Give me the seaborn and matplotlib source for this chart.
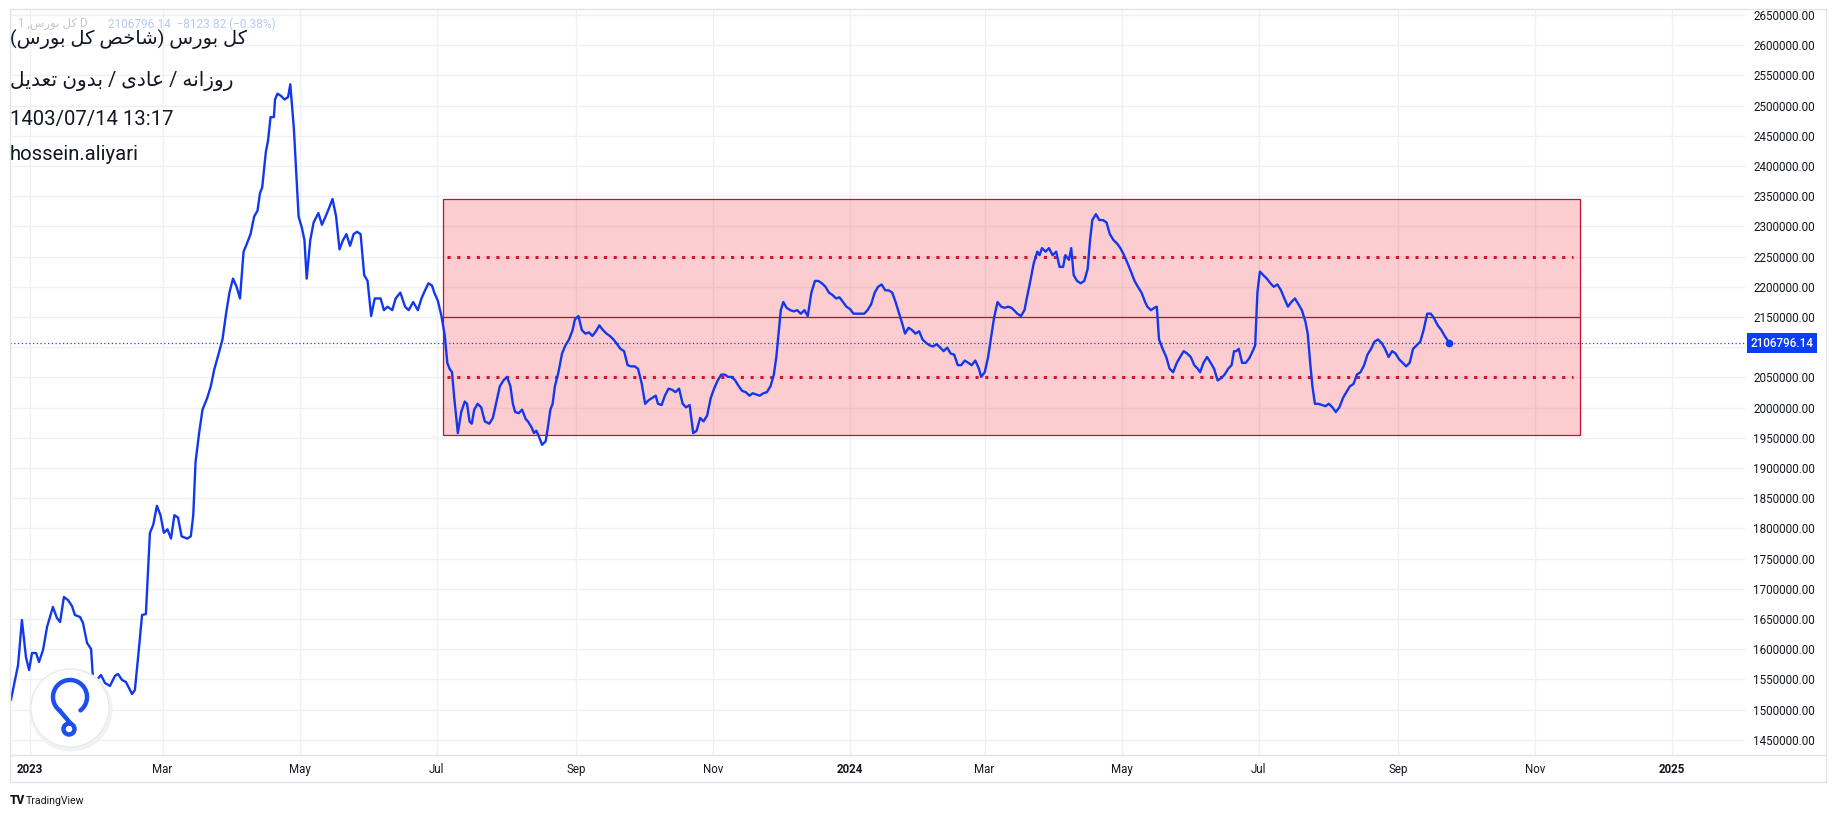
import numpy as np
import pandas as pd
import matplotlib
matplotlib.use("Agg")
import matplotlib.pyplot as plt
import seaborn as sns
from matplotlib.patches import Circle, Rectangle

# ---------------- data ----------------
START_DATE = "2023-01-01"
# days after START_DATE
day_offset = [
    -8.5, -5.3, -3.6, -1.8, -0.4, 0.9, 2.7, 4.0, 5.8, 7.6, 10.2, 12.0, 13.4, 15.1, 16.9, 18.7,
    20.0, 22.3, 23.6, 25.4, 27.2, 28.0, 29.8, 31.6, 33.4, 35.6, 37.8, 39.2, 41.0, 42.7, 44.1,
    45.4, 46.7, 48.1, 49.9, 51.6, 53.4, 54.9, 56.5, 58.1, 59.6, 61.2, 62.8, 64.3, 65.9, 67.5,
    70.0, 71.6, 72.7, 73.7, 75.3, 76.8, 78.9, 80.5, 82.0, 83.6, 85.7, 87.3, 88.8, 90.4, 92.0,
    93.5, 95.1, 96.6, 98.2, 99.8, 101.3, 102.4, 103.4, 105.0, 106.0, 107.1, 108.6, 109.1,
    110.2, 111.8, 113.3, 114.9, 115.9, 117.5, 118.5, 119.6, 121.1, 122.2, 123.2, 124.8, 126.3,
    128.4, 130.0, 131.6, 133.1, 134.7, 136.3, 137.8, 139.4, 140.9, 142.5, 144.1, 145.6, 147.2,
    148.8, 150.3, 151.9, 153.5, 156.1, 157.6, 159.2, 161.3, 162.8, 164.9, 167.0, 168.6, 170.6,
    172.7, 174.3, 175.9, 177.4, 179.0, 180.0, 181.6, 183.2, 184.7, 185.8, 186.8, 187.9, 188.9,
    190.5, 192.0, 193.6, 194.6, 195.7, 196.7, 197.8, 199.3, 200.9, 202.5, 204.5, 206.1, 207.7,
    209.2, 210.8, 212.4, 213.9, 215.0, 216.0, 217.6, 219.1, 220.7, 221.7, 223.3, 224.4, 225.4,
    226.4, 228.0, 229.6, 230.6, 231.7, 232.7, 233.7, 235.3, 236.9, 238.4, 240.0, 241.6, 242.6,
    244.2, 245.7, 247.3, 248.9, 250.4, 252.0, 253.5, 255.1, 256.7, 258.2, 259.8, 261.4, 262.9,
    264.5, 266.1, 267.6, 269.2, 270.7, 272.3, 273.9, 275.4, 277.0, 278.6, 279.6, 281.2, 282.7,
    284.3, 285.9, 287.4, 289.0, 290.6, 292.1, 293.7, 295.3, 296.8, 298.4, 299.9, 301.5, 303.1,
    304.6, 306.2, 307.8, 309.3, 310.9, 312.4, 314.0, 315.6, 317.1, 318.7, 320.3, 321.8, 323.4,
    324.9, 326.5, 328.1, 329.7, 331.2, 332.3, 333.3, 334.3, 335.4, 336.9, 338.5, 340.1, 341.6,
    343.2, 344.8, 346.3, 347.9, 349.5, 351.0, 352.6, 354.2, 355.7, 357.3, 358.9, 360.4, 362.0,
    363.5, 365.1, 366.7, 368.2, 369.8, 371.4, 372.9, 374.5, 376.1, 377.6, 379.2, 380.8, 382.3,
    383.9, 385.4, 387.0, 388.6, 389.6, 391.2, 392.7, 394.3, 395.9, 397.4, 399.0, 400.6, 402.1,
    403.7, 405.3, 406.8, 408.4, 409.9, 411.5, 413.1, 414.6, 416.2, 417.8, 419.3, 420.9, 422.5,
    423.5, 425.1, 426.6, 428.2, 429.2, 430.8, 432.4, 433.9, 435.5, 437.0, 438.1, 439.6, 441.2,
    442.8, 443.8, 445.4, 446.9, 448.5, 449.5, 450.6, 452.2, 453.7, 455.3, 456.9, 458.4, 460.0,
    461.0, 462.6, 463.6, 464.7, 466.2, 467.8, 469.4, 470.9, 472.0, 473.0, 474.6, 476.1, 477.7,
    479.3, 480.8, 482.4, 484.0, 485.5, 487.1, 488.7, 490.2, 491.8, 493.3, 494.9, 496.5, 497.5,
    499.1, 500.6, 501.7, 502.7, 504.3, 505.9, 507.4, 509.0, 510.6, 512.1, 513.7, 515.2, 516.8,
    518.4, 519.9, 521.0, 522.5, 524.1, 525.7, 527.2, 528.8, 530.4, 531.9, 533.5, 535.0, 536.1,
    537.1, 538.2, 539.7, 541.3, 542.9, 544.4, 545.5, 546.5, 547.6, 549.1, 550.7, 552.3, 553.8,
    555.4, 557.0, 558.5, 560.1, 561.6, 563.2, 564.8, 566.3, 567.9, 568.9, 570.0, 571.0, 572.1,
    573.6, 575.2, 576.8, 578.3, 579.9, 581.4, 583.0, 584.6, 586.1, 587.7, 589.3, 590.8, 592.4,
    594.0, 595.5, 597.1, 598.6, 600.2, 601.8, 603.3, 604.9, 606.5, 608.0, 609.6, 611.2, 612.7,
    614.3, 615.8, 617.4, 619.0, 620.5, 622.1, 623.7, 625.2, 626.8, 628.4, 629.9, 632.0,
]
# index level in thousands
index_k = [
    1515.9, 1573.8, 1648.3, 1587.0, 1565.5, 1593.7, 1593.7, 1578.8, 1598.6, 1636.8, 1669.9, 1651.6,
    1645.0, 1686.4, 1681.4, 1671.5, 1656.6, 1653.3, 1643.4, 1610.3, 1600.3, 1554.0, 1549.0, 1557.3,
    1544.0, 1539.1, 1555.6, 1559.0, 1549.0, 1545.7, 1535.7, 1525.8, 1532.4, 1585.4, 1656.6, 1658.2,
    1792.5, 1806.3, 1837.4, 1821.9, 1792.7, 1798.5, 1783.1, 1821.9, 1818.0, 1786.9, 1783.1, 1787.0,
    1822.2, 1909.4, 1957.8, 1996.6, 2015.9, 2035.3, 2062.4, 2083.8, 2112.8, 2155.5, 2190.4, 2213.6,
    2200.0, 2180.7, 2258.2, 2271.7, 2287.2, 2316.3, 2326.0, 2355.1, 2364.8, 2422.9, 2442.3, 2481.0,
    2481.0, 2510.1, 2519.8, 2515.9, 2510.1, 2514.0, 2535.3, 2461.6, 2393.8, 2316.3, 2296.9, 2277.5,
    2213.6, 2277.5, 2306.6, 2322.1, 2302.7, 2316.3, 2329.9, 2345.4, 2316.3, 2262.0, 2277.5, 2287.2,
    2267.9, 2287.2, 2291.1, 2287.2, 2219.4, 2209.7, 2151.6, 2180.7, 2180.7, 2161.3, 2167.1, 2161.3,
    2180.7, 2190.4, 2167.1, 2161.3, 2174.8, 2161.3, 2180.7, 2194.2, 2205.8, 2202.0, 2190.4, 2176.8,
    2151.6, 2118.6, 2074.1, 2064.4, 2058.6, 2015.9, 1957.8, 1992.7, 2010.1, 2006.3, 1977.2, 1973.3,
    1996.6, 2006.3, 2000.4, 1977.2, 1973.3, 1983.0, 2010.1, 2035.3, 2045.0, 2050.8, 2035.3, 2006.3,
    1992.7, 1990.8, 1996.6, 1981.1, 1977.2, 1967.5, 1957.8, 1961.7, 1954.0, 1938.4, 1944.3, 1967.5,
    1996.6, 2006.3, 2035.3, 2058.6, 2089.6, 2103.1, 2112.8, 2128.4, 2145.8, 2151.6, 2128.4, 2122.5,
    2124.5, 2118.6, 2126.4, 2136.1, 2128.4, 2122.5, 2118.6, 2112.8, 2105.1, 2097.3, 2093.5, 2070.2,
    2068.3, 2068.3, 2064.4, 2041.1, 2006.3, 2012.1, 2015.9, 2019.8, 2006.3, 2004.3, 2019.8, 2031.4,
    2029.5, 2025.6, 2031.4, 2006.3, 2000.4, 2004.3, 1957.8, 1961.7, 1983.0, 1977.2, 1986.9, 2015.9,
    2031.4, 2045.0, 2054.7, 2054.7, 2050.8, 2050.8, 2045.0, 2035.3, 2027.6, 2025.6, 2019.8, 2023.7,
    2021.7, 2019.8, 2023.7, 2025.6, 2035.3, 2054.7, 2083.8, 2122.5, 2161.3, 2174.8, 2165.2, 2161.3,
    2159.3, 2161.3, 2155.5, 2161.3, 2151.6, 2190.4, 2209.7, 2209.7, 2205.8, 2200.0, 2190.4, 2186.5,
    2180.7, 2182.6, 2174.8, 2167.1, 2163.2, 2155.5, 2155.5, 2155.5, 2155.5, 2161.3, 2171.0, 2190.4,
    2200.0, 2203.9, 2194.2, 2194.2, 2190.4, 2174.8, 2155.5, 2136.1, 2122.5, 2132.2, 2128.4, 2122.5,
    2126.4, 2112.8, 2107.0, 2103.1, 2101.2, 2105.1, 2099.3, 2093.5, 2099.3, 2089.6, 2087.6, 2070.2,
    2070.2, 2077.9, 2074.1, 2070.2, 2077.9, 2064.4, 2050.8, 2058.6, 2083.8, 2122.5, 2147.7, 2174.8,
    2167.1, 2165.2, 2167.1, 2165.2, 2161.3, 2155.5, 2151.6, 2161.3, 2180.7, 2209.7, 2238.8, 2258.2,
    2252.4, 2264.0, 2258.2, 2264.0, 2252.4, 2258.2, 2233.0, 2233.0, 2252.4, 2244.6, 2264.0, 2219.4,
    2209.7, 2205.8, 2209.7, 2229.1, 2277.5, 2310.5, 2320.2, 2310.5, 2310.5, 2306.6, 2287.2, 2277.5,
    2271.7, 2264.0, 2252.4, 2238.8, 2225.2, 2209.7, 2200.0, 2190.4, 2174.8, 2167.1, 2161.3, 2165.2,
    2167.1, 2112.8, 2097.3, 2083.8, 2064.4, 2058.6, 2074.1, 2083.8, 2093.5, 2089.6, 2083.8, 2070.2,
    2064.4, 2058.6, 2074.1, 2083.8, 2074.1, 2064.4, 2045.0, 2048.9, 2054.7, 2064.4, 2070.2, 2093.5,
    2093.5, 2097.3, 2074.1, 2074.1, 2081.8, 2093.5, 2103.1, 2190.4, 2225.2, 2219.4, 2213.6, 2205.8,
    2200.0, 2203.9, 2194.2, 2180.7, 2167.1, 2174.8, 2180.7, 2171.0, 2161.3, 2141.9, 2122.5, 2074.1,
    2035.3, 2006.3, 2006.3, 2004.3, 2002.4, 2006.3, 2000.4, 1992.7, 2000.4, 2015.9, 2025.6, 2035.3,
    2039.2, 2054.7, 2058.6, 2070.2, 2087.6, 2097.3, 2109.0, 2112.8, 2107.0, 2097.3, 2083.8, 2093.5,
    2089.6, 2079.9, 2074.1, 2068.3, 2074.1, 2097.3, 2103.1, 2109.0, 2128.4, 2155.5, 2155.5, 2147.7,
    2136.1, 2128.4, 2118.6, 2106.79614,
]
last_price = 2106796.14
last_change = -8123.82
last_change_pct = -0.38

box_start = "2023-07-04"
box_end = "2024-11-21"
box_top = 2345000
box_bottom = 1955000
box_mid = 2150000
dotted_levels = [2250000, 2050000]

y_ticks = list(range(1450000, 2650001, 50000))
x_tick_dates = ["2023-01-01", "2023-03-01", "2023-05-01", "2023-07-01", "2023-09-01",
                "2023-11-01", "2024-01-01", "2024-03-01", "2024-05-01", "2024-07-01",
                "2024-09-01", "2024-11-01", "2025-01-01"]
x_tick_labels = ["2023", "Mar", "May", "Jul", "Sep", "Nov", "2024", "Mar", "May", "Jul",
                 "Sep", "Nov", "2025"]

title_fa = "کل بورس (شاخص کل بورس)"
subtitle_fa = "روزانه / عادی / بدون تعدیل"
stamp = "1403/07/14 13:17"
author = "hossein.aliyari"
symbol_fa = "کل بورس"

# ---------------- Persian shaping (matplotlib has no bidi) ----------------
_FORMS = {
    "ا": ("\uFE8D", "\uFE8E", None, None),
    "ب": ("\uFE8F", "\uFE90", "\uFE91", "\uFE92"),
    "ت": ("\uFE95", "\uFE96", "\uFE97", "\uFE98"),
    "خ": ("\uFEA5", "\uFEA6", "\uFEA7", "\uFEA8"),
    "د": ("\uFEA9", "\uFEAA", None, None),
    "ر": ("\uFEAD", "\uFEAE", None, None),
    "ز": ("\uFEAF", "\uFEB0", None, None),
    "س": ("\uFEB1", "\uFEB2", "\uFEB3", "\uFEB4"),
    "ش": ("\uFEB5", "\uFEB6", "\uFEB7", "\uFEB8"),
    "ص": ("\uFEB9", "\uFEBA", "\uFEBB", "\uFEBC"),
    "ع": ("\uFEC9", "\uFECA", "\uFECB", "\uFECC"),
    "ل": ("\uFEDD", "\uFEDE", "\uFEDF", "\uFEE0"),
    "ن": ("\uFEE5", "\uFEE6", "\uFEE7", "\uFEE8"),
    "ه": ("\uFEE9", "\uFEEA", "\uFEEB", "\uFEEC"),
    "و": ("\uFEED", "\uFEEE", None, None),
    "ک": ("\uFB8E", "\uFB8F", "\uFB90", "\uFB91"),
    "ی": ("\uFBFC", "\uFBFD", "\uFBFE", "\uFBFF"),
}


def shape(s):
    out = []
    for i, c in enumerate(s):
        f = _FORMS.get(c)
        if f is None:
            out.append(c)
            continue
        prev = s[i - 1] if i > 0 else ""
        nxt = s[i + 1] if i + 1 < len(s) else ""
        pj = prev in _FORMS and _FORMS[prev][2] is not None
        nj = (nxt in _FORMS) and f[2] is not None
        if f[2] is None:
            out.append(f[1] if pj else f[0])
        elif pj and nj:
            out.append(f[3])
        elif pj:
            out.append(f[1])
        elif nj:
            out.append(f[2])
        else:
            out.append(f[0])
    return "".join(out)


def rtl(s):
    mirror = {"(": ")", ")": "("}
    return "".join(mirror.get(c, c) for c in reversed(shape(s)))


# ---------------- figure ----------------
sns.set_theme(style="white")
plt.rcParams["font.family"] = ["Roboto", "DejaVu Sans"]

W, H = 1836, 818
fig = plt.figure(figsize=(W / 100, H / 100), dpi=100)
fig.patch.set_facecolor("white")

PL, PR, PT, PB = 10, 1745, 9, 755
ax = fig.add_axes([PL / W, 1 - PB / H, (PR - PL) / W, (PB - PT) / H])
ax.set_facecolor("white")

start = pd.Timestamp(START_DATE)
df = pd.DataFrame({
    "date": start + pd.to_timedelta(np.array(day_offset) * 86400, unit="s"),
    "value": np.array(index_k) * 1000.0,
})

LINE = "#1238ee"
sns.lineplot(data=df, x="date", y="value", ax=ax, color=LINE, linewidth=1.7,
             estimator=None, sort=False, zorder=4)
ax.plot(df["date"].iloc[-1:], df["value"].iloc[-1:], "o", color=LINE, markersize=4.5, zorder=5)

# range box
bx0, bx1 = pd.Timestamp(box_start), pd.Timestamp(box_end)
ax.add_patch(Rectangle((bx0, box_bottom), bx1 - bx0, box_top - box_bottom,
                       facecolor=(0.949, 0.212, 0.271, 0.25), edgecolor="#c8102e",
                       linewidth=0.9, zorder=2))
ax.plot([bx0, bx1], [box_mid, box_mid], color="#b0132d", linewidth=0.9, zorder=2)
for lv in dotted_levels:
    ax.plot([bx0 + pd.Timedelta(days=1.5), bx1 - pd.Timedelta(days=3)], [lv, lv],
            color="#dc0f2a", linewidth=2.2, linestyle=(0, (1, 2.2)),
            dash_capstyle="butt", zorder=3)

# last price line
ax.axhline(last_price, color="#3543a8", linewidth=0.9, linestyle=(0, (1, 2)), zorder=3)

# axes limits / grid
ax.set_xlim(start - pd.Timedelta(days=8.9), start + pd.Timedelta(days=763.6))
ax.set_ylim(1424834, 2659934)
for s in ax.spines.values():
    s.set_visible(False)
ax.grid(True, color="#eef0f4", linewidth=1.0, zorder=0)
ax.set_axisbelow(True)

shown_y = [t for t in y_ticks if abs(t - last_price) > 25000]
ax.set_yticks(y_ticks)
ax.set_yticklabels([f"{t:.2f}" if t in shown_y else "" for t in y_ticks])
ax.yaxis.tick_right()
ax.tick_params(axis="y", length=0, pad=6, labelsize=8.4, labelcolor="#131722")

ax.set_xticks(pd.to_datetime(x_tick_dates))
ax.set_xticklabels(x_tick_labels)
ax.tick_params(axis="x", length=0, pad=6, labelsize=8.3, labelcolor="#131722")
for lbl in ax.get_xticklabels():
    if lbl.get_text().isdigit():
        lbl.set_fontweight("bold")
ax.set_xlabel("")
ax.set_ylabel("")

ax.annotate(f"{last_price:.2f}", xy=(1, last_price), xycoords=ax.get_yaxis_transform(),
            xytext=(4.3, 0), textcoords="offset points", ha="left", va="center",
            color="white", fontsize=8.4, fontweight="medium",
            bbox=dict(boxstyle="square,pad=0.3", fc="#0b3df5", ec="none"),
            annotation_clip=False, zorder=10)

# ---------------- overlay (frame, texts, logo) in pixel coordinates ----------------
ov = fig.add_axes([0, 0, 1, 1], zorder=5)
ov.set_xlim(0, W)
ov.set_ylim(H, 0)
ov.axis("off")
ov.patch.set_alpha(0)

FR = "#e0e3eb"
ov.plot([10, 1826, 1826, 10, 10], [9, 9, 782, 782, 9], color=FR, linewidth=1.0)
ov.plot([10, 1826], [755, 755], color=FR, linewidth=1.0)

# faint legend row
ov.text(18, 24, "1 ," + rtl(symbol_fa) + " D", fontsize=8.5, color="#c3c6cf",
        va="center", ha="left")
ov.text(108, 24, f"{last_price:.2f}  \u2212{abs(last_change):.2f} (\u2212{abs(last_change_pct):.2f}%)",
        fontsize=8.5, color="#b9c8f2", va="center", ha="left")

# title block
TXT = "#131722"
ov.text(10, 44, rtl(title_fa), fontsize=14, color=TXT, ha="left", va="baseline")
ov.text(10, 86, rtl(subtitle_fa), fontsize=14.5, color=TXT, ha="left", va="baseline")
ov.text(10, 125, stamp, fontsize=14.6, color=TXT, ha="left", va="baseline")
ov.text(10, 160, author, fontsize=14.6, color=TXT, ha="left", va="baseline")

# author logo
ov.add_patch(Circle((71, 710), 41.5, facecolor="#f1f2f4", edgecolor="none", zorder=6))
ov.add_patch(Circle((70, 708), 39, facecolor="white", edgecolor="#e6e8ec", linewidth=0.8, zorder=7))
t = np.radians(np.linspace(-52, 232, 120))
cx, cy, r = 70, 697, 17
ov.plot(cx + r * np.cos(t), cy - r * np.sin(t), color="#1d4ef0", linewidth=3.2,
        solid_capstyle="round", zorder=8)
ax_end = (cx + r * np.cos(np.radians(232)), cy - r * np.sin(np.radians(232)))
ov.plot([ax_end[0], 71], [ax_end[1], 724], color="#1d4ef0", linewidth=3.2,
        solid_capstyle="round", zorder=8)
ov.add_patch(Circle((69, 729), 5.5, facecolor="none", edgecolor="#1d4ef0", linewidth=3.2, zorder=8))

# footer
ov.text(10, 801, "TV", fontsize=8.5, fontweight="heavy", color="#131722", ha="left", va="center")
ov.text(26, 801, "TradingView", fontsize=7.6, color="#131722", ha="left", va="center")

fig.savefig("out.png", dpi=100, facecolor="white")
